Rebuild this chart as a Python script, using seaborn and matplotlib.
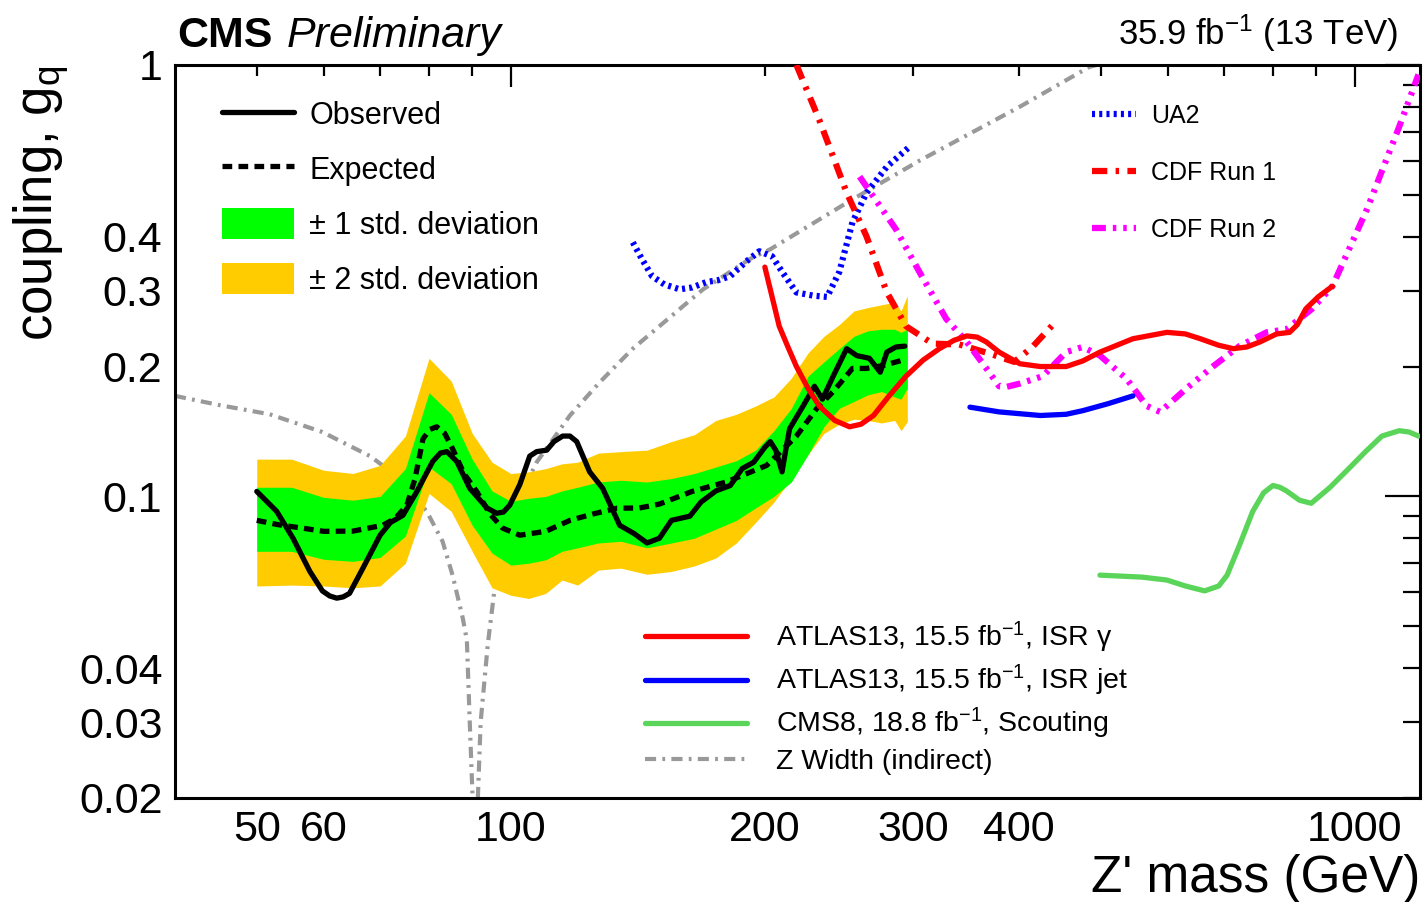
import numpy as np
import matplotlib
matplotlib.use("Agg")
import matplotlib.pyplot as plt
import matplotlib.ticker as mticker
from matplotlib.patches import Patch
import seaborn as sns

# DATA =================================================================================

# expected limit bands
band_mass = [50, 55, 60, 65, 70, 75, 80, 85, 90, 95, 100, 105, 110, 115, 120, 127, 135, 145,
             155, 165, 175, 185, 195, 205, 215, 225, 235, 245, 255, 265, 275, 285, 290, 295]
two_sigma_hi = [0.122, 0.122, 0.115, 0.113, 0.118, 0.138, 0.209, 0.185, 0.140, 0.120, 0.113, 0.114,
                0.116, 0.119, 0.120, 0.126, 0.127, 0.128, 0.134, 0.139, 0.150, 0.155, 0.162, 0.170,
                0.188, 0.215, 0.235, 0.250, 0.269, 0.274, 0.278, 0.282, 0.269, 0.292]
two_sigma_lo = [0.062, 0.0623, 0.062, 0.0614, 0.062, 0.070, 0.1016, 0.0923, 0.0746, 0.0614, 0.059,
                0.058, 0.0596, 0.064, 0.0623, 0.0675, 0.0682, 0.066, 0.067, 0.069, 0.072, 0.078,
                0.087, 0.097, 0.110, 0.125, 0.140, 0.147, 0.151, 0.150, 0.148, 0.150, 0.142, 0.149]
one_sigma_hi = [0.105, 0.105, 0.0995, 0.098, 0.100, 0.116, 0.174, 0.155, 0.122, 0.103, 0.0974, 0.099,
                0.100, 0.103, 0.105, 0.108, 0.109, 0.108, 0.110, 0.113, 0.117, 0.121, 0.128, 0.142,
                0.160, 0.190, 0.205, 0.220, 0.235, 0.242, 0.244, 0.244, 0.240, 0.244]
one_sigma_lo = [0.0746, 0.0746, 0.0715, 0.0707, 0.0722, 0.0809, 0.117, 0.107, 0.0857, 0.0739, 0.0693,
                0.070, 0.0713, 0.0746, 0.076, 0.078, 0.0787, 0.076, 0.078, 0.080, 0.084, 0.088,
                0.094, 0.100, 0.108, 0.125, 0.145, 0.160, 0.166, 0.172, 0.175, 0.170, 0.168, 0.178]

# expected limit
exp_mass = [50, 53, 56.7, 60, 65, 70.5, 73, 75.3, 77, 78.7, 80.2, 81.7, 83.5, 85.3, 88, 91.1, 94.5,
            97.8, 102.5, 110, 117.5, 125, 133.6, 142, 150, 164, 180, 201, 218, 230.5, 241, 254,
            264, 276, 294]
exp_g = [0.088, 0.086, 0.0844, 0.083, 0.0831, 0.0857, 0.089, 0.0954, 0.110, 0.136, 0.143, 0.145,
         0.140, 0.129, 0.113, 0.1027, 0.091, 0.0844, 0.0813, 0.083, 0.088, 0.091, 0.0939, 0.094,
         0.096, 0.1027, 0.108, 0.118, 0.138, 0.160, 0.175, 0.198, 0.198, 0.201, 0.208]

# observed limit
obs_mass = [50, 52.8, 55.2, 57.8, 59.8, 61, 62.2, 63.3, 64.4, 66.8, 70, 72, 74.5, 77.4, 80.8, 82.5,
            84, 86.3, 89.4, 93.7, 96.2, 98, 99.7, 102.5, 105.3, 107.3, 110.3, 112.5, 115.2, 117.5,
            119.7, 124, 128.5, 134.6, 140, 145, 150, 155, 163, 168, 175, 182, 188, 194, 200, 203,
            206, 209.6, 212, 214, 222, 229, 234, 241, 250, 257, 266, 274, 279, 286, 293]
obs_g = [0.1027, 0.0923, 0.080, 0.067, 0.0604, 0.0588, 0.0581, 0.0585, 0.0596, 0.0682, 0.0813,
         0.087, 0.0904, 0.1027, 0.1205, 0.126, 0.127, 0.1205, 0.1044, 0.094, 0.0914, 0.092, 0.0954,
         0.1066, 0.124, 0.127, 0.128, 0.134, 0.138, 0.138, 0.134, 0.114, 0.1044, 0.0857, 0.082,
         0.078, 0.080, 0.088, 0.090, 0.097, 0.103, 0.106, 0.116, 0.120, 0.130, 0.134, 0.128,
         0.114, 0.130, 0.1436, 0.162, 0.180, 0.168, 0.190, 0.220, 0.212, 0.209, 0.194, 0.216,
         0.222, 0.223]

# other experiments
ua2_mass = [139.5, 143, 147, 152, 158.5, 164, 170.6, 176, 182, 190, 197, 204, 210, 218, 228, 237,
            245, 254, 264, 279, 297]
ua2_g = [0.388, 0.355, 0.324, 0.31, 0.302, 0.305, 0.314, 0.317, 0.324, 0.35, 0.37, 0.36, 0.33,
         0.297, 0.292, 0.29, 0.331, 0.432, 0.506, 0.581, 0.647]

cdf1_mass = [218, 232, 250, 264, 279, 294, 316, 340, 370, 395, 415, 443]
cdf1_g = [1.0, 0.746, 0.506, 0.40, 0.297, 0.248, 0.226, 0.225, 0.214, 0.205, 0.222, 0.255]

cdf2_mass = [259, 286, 305, 328, 347, 366, 379, 387, 401, 427, 455, 476, 499, 537, 567, 588, 632,
             679, 730, 786, 830, 890, 941, 1034, 1129, 1190]
cdf2_g = [0.551, 0.416, 0.331, 0.258, 0.228, 0.198, 0.18, 0.1795, 0.1826, 0.19, 0.216, 0.222,
          0.212, 0.187, 0.162, 0.157, 0.178, 0.2, 0.223, 0.240, 0.244, 0.272, 0.307, 0.463,
          0.719, 0.95]

atlas_gamma_mass = [200, 204, 208, 213, 218, 225, 232, 242, 252, 260, 269, 280, 294, 308, 322, 335,
                    347, 357, 366, 379, 401, 424, 455, 476, 499, 546, 599, 630, 656, 690, 718, 745,
                    772, 808, 837, 855, 875, 905, 941]
atlas_gamma_g = [0.34, 0.29, 0.248, 0.222, 0.2, 0.178, 0.162, 0.150, 0.145, 0.147, 0.154, 0.170,
                 0.19, 0.207, 0.22, 0.23, 0.2355, 0.234, 0.228, 0.216, 0.203, 0.2, 0.2, 0.206,
                 0.216, 0.232, 0.240, 0.238, 0.232, 0.224, 0.22, 0.222, 0.228, 0.238, 0.24, 0.25,
                 0.272, 0.29, 0.307]

atlas_jet_mass = [350, 379, 424, 455, 476, 510, 546]
atlas_jet_g = [0.161, 0.157, 0.154, 0.155, 0.158, 0.164, 0.171]

cms8_mass = [499, 560, 599, 630, 664, 690, 706, 730, 757, 780, 800, 815, 830, 860, 888, 935, 984,
             1030, 1077, 1129, 1160, 1190]
cms8_g = [0.0657, 0.065, 0.064, 0.062, 0.0604, 0.062, 0.0657, 0.077, 0.0923, 0.102, 0.106, 0.105,
          0.103, 0.098, 0.0964, 0.105, 0.116, 0.127, 0.138, 0.142, 0.141, 0.138]

# Z width (indirect), two branches around the Z mass
zw_lo_mass = [40, 45, 51.8, 59.8, 68.1, 74, 79.5, 83, 85.3, 87.7, 88.7, 89.4, 90.1]
zw_lo_g = [0.171, 0.163, 0.155, 0.141, 0.124, 0.11, 0.0923, 0.0787, 0.0657, 0.0523, 0.0464, 0.03, 0.02]
zw_hi_mass = [91.4, 92.1, 93.9, 95.7, 100, 107.3, 117.5, 127.5, 134.6, 139.5, 160, 169, 192, 203,
              254, 305, 401, 485, 495]
zw_hi_g = [0.02, 0.03, 0.0453, 0.0614, 0.09, 0.12, 0.154, 0.184, 0.205, 0.22, 0.276, 0.302, 0.355,
           0.374, 0.488, 0.6, 0.8, 0.99, 1.0]

x_labels = [50, 60, 100, 200, 300, 400, 1000]
y_labels = [0.02, 0.03, 0.04, 0.1, 0.2, 0.3, 0.4, 1]

# STYLE ================================================================================

sns.set_style("white")
plt.rcParams["font.family"] = ["Liberation Sans", "DejaVu Sans"]
plt.rcParams["mathtext.fontset"] = "custom"
plt.rcParams["mathtext.rm"] = "Liberation Sans"
plt.rcParams["mathtext.it"] = "Liberation Sans:italic"
plt.rcParams["lines.scale_dashes"] = False
for key in ("text.color", "axes.labelcolor", "xtick.color", "ytick.color"):
    plt.rcParams[key] = "black"

fig = plt.figure(figsize=(14.25, 9.02), dpi=100)
ax = fig.add_axes([0.1228, 0.1153, 0.8737, 0.8127])
ax.set_xscale("log")
ax.set_yscale("log")

GREEN = "#00ff00"
YELLOW = "#ffcc00"


def draw(x, y, color, lw, ls, z):
    sns.lineplot(x=x, y=y, ax=ax, sort=False, estimator=None, color=color,
                 linewidth=lw, linestyle=ls, zorder=z, legend=False)
    line = ax.lines[-1]
    line.set_solid_joinstyle("round")
    line.set_dash_joinstyle("round")
    return line


# Z width underneath everything
zw_style = (0, (8, 4.5, 2, 4.5))
zw_line = draw(zw_lo_mass, zw_lo_g, "#999999", 3, zw_style, 1)
draw(zw_hi_mass, zw_hi_g, "#999999", 3, zw_style, 1)

# bands
ax.fill_between(band_mass, two_sigma_lo, two_sigma_hi, color=YELLOW, lw=0, zorder=2)
ax.fill_between(band_mass, one_sigma_lo, one_sigma_hi, color=GREEN, lw=0, zorder=2)

exp_line = draw(exp_mass, exp_g, "black", 3.8, (0, (7, 4.5)), 3)
obs_line = draw(obs_mass, obs_g, "black", 3.8, "-", 3)

ua2_line = draw(ua2_mass, ua2_g, "blue", 4.5, (0, (2.2, 3)), 4)
cdf1_line = draw(cdf1_mass, cdf1_g, "red", 4.5, (0, (11, 6, 2.5, 6)), 4)
cdf2_line = draw(cdf2_mass, cdf2_g, "magenta", 4.5, (0, (10, 5, 2.5, 5, 2.5, 5, 2.5, 5)), 4)
gamma_line = draw(atlas_gamma_mass, atlas_gamma_g, "red", 3.8, "-", 5)
jet_line = draw(atlas_jet_mass, atlas_jet_g, "blue", 3.8, "-", 5)
cms8_line = draw(cms8_mass, cms8_g, "#5ad55a", 3.8, "-", 5)

ax.set_xlim(40, 1195)
ax.set_ylim(0.02, 1)

# AXES ================================================================================

for s in ax.spines.values():
    s.set_linewidth(2.2)
    s.set_color("black")

ax.xaxis.set_major_locator(mticker.FixedLocator([100, 1000]))
ax.xaxis.set_minor_locator(mticker.FixedLocator([50, 60, 70, 80, 90, 200, 300, 400, 500, 600, 700, 800, 900]))
ax.yaxis.set_major_locator(mticker.FixedLocator([0.1, 1]))
ax.yaxis.set_minor_locator(mticker.FixedLocator([0.02, 0.03, 0.04, 0.05, 0.06, 0.07, 0.08, 0.09,
                                                 0.2, 0.3, 0.4, 0.5, 0.6, 0.7, 0.8, 0.9]))


def fmt_x(v, pos):
    return f"{v:g}" if any(abs(v - t) < 1e-6 for t in x_labels) else ""


def fmt_y(v, pos):
    return f"{v:g}" if any(abs(v - t) < 1e-9 for t in y_labels) else ""


for axis, f in ((ax.xaxis, fmt_x), (ax.yaxis, fmt_y)):
    axis.set_major_formatter(mticker.FuncFormatter(f))
    axis.set_minor_formatter(mticker.FuncFormatter(f))

ax.tick_params(axis="x", which="major", direction="in", length=16, width=1.6, top=True,
               labelsize=31, pad=9)
ax.tick_params(axis="x", which="minor", direction="in", length=8, width=1.6, top=True,
               labelsize=31, pad=9)
ax.tick_params(axis="y", which="major", direction="in", length=25, width=1.6, right=True,
               labelsize=31, pad=9)
ax.tick_params(axis="y", which="minor", direction="in", length=12, width=1.6, right=True,
               labelsize=31, pad=9)

ax.set_xlabel("Z' mass (GeV)", fontsize=37, loc="right")
ax.xaxis.set_label_coords(1.0, -0.1285)
ax.xaxis.label.set_verticalalignment("baseline")
ax.set_ylabel("coupling, $\\mathregular{g_{q}}$", fontsize=38, loc="top", labelpad=6)

fig.text(0.1242, 0.948, "CMS", fontsize=31, fontweight="bold", va="baseline")
fig.text(0.2015, 0.948, "Preliminary", fontsize=31, fontstyle="italic", va="baseline")
fig.text(0.981, 0.950, "35.9 fb$^{\\mathregular{-1}}$ (13 TeV)", fontsize=25, ha="right", va="baseline")

# LEGENDS =============================================================================

leg1 = ax.legend([obs_line, exp_line, Patch(color=GREEN, lw=0), Patch(color=YELLOW, lw=0)],
                 ["Observed", "Expected", "\u00b1 1 std. deviation", "\u00b1 2 std. deviation"],
                 loc="upper left", bbox_to_anchor=(0.0378, 0.954), frameon=False, fontsize=22,
                 handlelength=2.35, handleheight=1.18, labelspacing=0.72, handletextpad=0.5,
                 borderpad=0, borderaxespad=0)
ax.add_artist(leg1)

leg2 = ax.legend([ua2_line, cdf1_line, cdf2_line], ["UA2", "CDF Run 1", "CDF Run 2"],
                 loc="upper left", bbox_to_anchor=(0.7366, 0.947), frameon=False, fontsize=18,
                 handlelength=1.75, labelspacing=1.32, handletextpad=0.6,
                 borderpad=0, borderaxespad=0)
ax.add_artist(leg2)

ax.legend([gamma_line, jet_line, cms8_line, zw_line],
          ["ATLAS13, 15.5 fb$^{\\mathregular{-1}}$, ISR \u03b3",
           "ATLAS13, 15.5 fb$^{\\mathregular{-1}}$, ISR jet",
           "CMS8, 18.8 fb$^{\\mathregular{-1}}$, Scouting",
           "Z Width (indirect)"],
          loc="upper left", bbox_to_anchor=(0.3775, 0.243), frameon=False, fontsize=20.5,
          handlelength=3.6, labelspacing=0.28, handletextpad=1.0,
          borderpad=0, borderaxespad=0)

fig.savefig("out.png", dpi=100)
